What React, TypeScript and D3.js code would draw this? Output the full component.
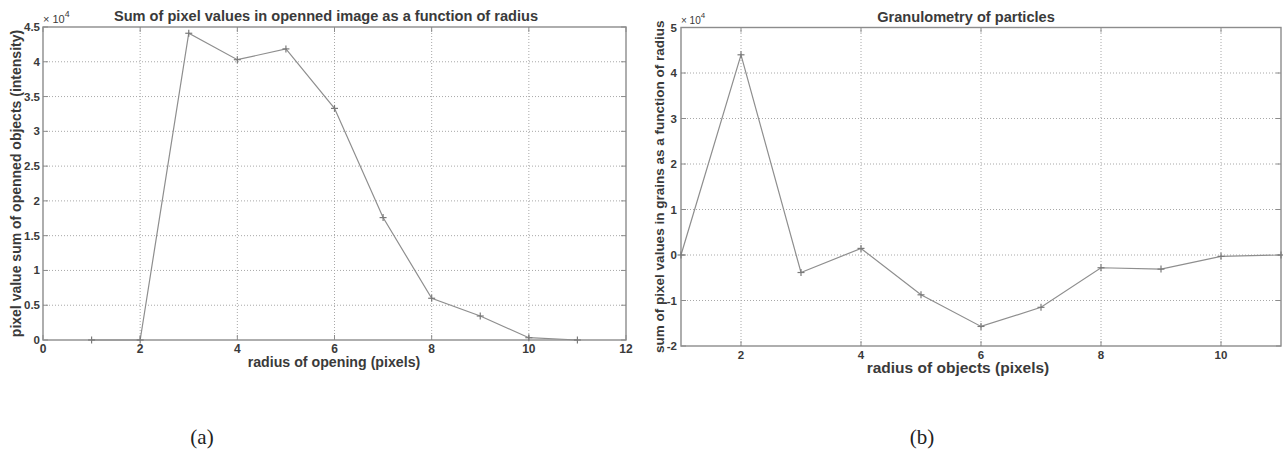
import React from "react";
import * as d3 from "d3";

// Panel (a): sum of pixel values in opened image vs radius
const radiusA = [1, 2, 3, 4, 5, 6, 7, 8, 9, 10, 11];
const sumOpened = [0, 0, 44100, 40300, 41850, 33300, 17600, 6000, 3450, 330, 0];
const xTicksA = [0, 2, 4, 6, 8, 10, 12];
const yTicksA = [0, 0.5, 1, 1.5, 2, 2.5, 3, 3.5, 4, 4.5];

// Panel (b): granulometry of particles
const radiusB = [1, 2, 3, 4, 5, 6, 7, 8, 9, 10, 11];
const granulometry = [0, 44000, -3850, 1450, -8750, -15700, -11500, -2800, -3100, -300, 0];
const xTicksB = [2, 4, 6, 8, 10];
const yTicksB = [-2, -1, 0, 1, 2, 3, 4, 5];

const TEXT = "#3a3a3a";
const AXIS = "#8c8c8c";
const GRID = "#a8a8a8";
const LINE = "#8e8e8e";
const FONT = "'Liberation Sans', Arial, Helvetica, sans-serif";

type PanelProps = {
  xs: number[];
  ys: number[];
  xDomain: [number, number];
  yDomain: [number, number];
  xRange: [number, number];
  yRange: [number, number];
  xTicks: number[];
  yTicks: number[];
  title: string;
  titleX: number;
  titleY: number;
  titleSize: number;
  xLabel: string;
  xLabelX: number;
  xLabelY: number;
  xLabelSize: number;
  yLabel: string;
  yLabelX: number;
  yLabelSize: number;
  xTickLabelY: number;
  xTickSize: number;
  yTickLabelX: number;
  yTickSize: number;
  expX: number;
  expY: number;
  expSize: number;
};

function Panel(p: PanelProps) {
  const x = d3.scaleLinear().domain(p.xDomain).range(p.xRange);
  const y = d3.scaleLinear().domain(p.yDomain).range(p.yRange);
  const [x0, x1] = p.xRange;
  const [y0, y1] = p.yRange; // y0 bottom, y1 top
  const line = d3
    .line<number>()
    .x((_, i) => x(p.xs[i]))
    .y((d) => y(d));
  const yVals = p.ys.map((v) => v / 1e4);
  const tl = 5;
  const yMid = (y0 + y1) / 2;
  return (
    <g>
      {/* grid */}
      {p.xTicks
        .filter((t) => t > p.xDomain[0] && t < p.xDomain[1])
        .map((t) => (
          <line key={"gx" + t} x1={x(t)} x2={x(t)} y1={y0} y2={y1} stroke={GRID} strokeWidth={1} strokeDasharray="1,2" />
        ))}
      {p.yTicks
        .filter((t) => t > p.yDomain[0] && t < p.yDomain[1])
        .map((t) => (
          <line key={"gy" + t} x1={x0} x2={x1} y1={y(t)} y2={y(t)} stroke={GRID} strokeWidth={1} strokeDasharray="1,2" />
        ))}
      {/* ticks */}
      {p.xTicks.map((t) => (
        <g key={"tx" + t}>
          <line x1={x(t)} x2={x(t)} y1={y0} y2={y0 - tl} stroke={AXIS} />
          <line x1={x(t)} x2={x(t)} y1={y1} y2={y1 + tl} stroke={AXIS} />
          <text x={x(t)} y={p.xTickLabelY} textAnchor="middle" fontSize={p.xTickSize} fontWeight="bold" fill={TEXT} fontFamily={FONT}>
            {t}
          </text>
        </g>
      ))}
      {p.yTicks.map((t) => (
        <g key={"ty" + t}>
          <line x1={x0} x2={x0 + tl} y1={y(t)} y2={y(t)} stroke={AXIS} />
          <line x1={x1} x2={x1 - tl} y1={y(t)} y2={y(t)} stroke={AXIS} />
          <text x={p.yTickLabelX} y={y(t)} dy="0.35em" textAnchor="end" fontSize={p.yTickSize} fontWeight="bold" fill={TEXT} fontFamily={FONT}>
            {t}
          </text>
        </g>
      ))}
      {/* box */}
      <rect x={x0} y={y1} width={x1 - x0} height={y0 - y1} fill="none" stroke={AXIS} strokeWidth={1.4} />
      {/* data */}
      <path d={line(yVals) || ""} fill="none" stroke={LINE} strokeWidth={1.2} />
      {yVals.map((v, i) => (
        <g key={"m" + i} stroke="#7a7a7a" strokeWidth={1.2}>
          <line x1={x(p.xs[i]) - 3.5} x2={x(p.xs[i]) + 3.5} y1={y(v)} y2={y(v)} />
          <line x1={x(p.xs[i])} x2={x(p.xs[i])} y1={y(v) - 3.5} y2={y(v) + 3.5} />
        </g>
      ))}
      {/* exponent */}
      <text x={p.expX} y={p.expY} fontSize={p.expSize} fill={TEXT} fontFamily={FONT}>
        × 10
        <tspan dy={-6} fontSize={p.expSize * 0.8}>4</tspan>
      </text>
      {/* labels */}
      <text x={p.titleX} y={p.titleY} textAnchor="middle" fontSize={p.titleSize} fontWeight="bold" fill={TEXT} fontFamily={FONT}>
        {p.title}
      </text>
      <text x={p.xLabelX} y={p.xLabelY} textAnchor="middle" fontSize={p.xLabelSize} fontWeight="bold" fill={TEXT} fontFamily={FONT}>
        {p.xLabel}
      </text>
      <text
        transform={`translate(${p.yLabelX},${yMid}) rotate(-90)`}
        textAnchor="middle"
        fontSize={p.yLabelSize}
        fontWeight="bold"
        fill={TEXT}
        fontFamily={FONT}
      >
        {p.yLabel}
      </text>
    </g>
  );
}

export default function App() {
  return (
    <svg width={1283} height={453} style={{ position: "absolute", left: 0, top: 0, background: "#fff" }}>
      <rect x={0} y={0} width={1283} height={453} fill="#fff" />
      <Panel
        xs={radiusA}
        ys={sumOpened}
        xDomain={[0, 12]}
        yDomain={[0, 4.5]}
        xRange={[43, 626]}
        yRange={[340, 27]}
        xTicks={xTicksA}
        yTicks={yTicksA}
        title="Sum of pixel values in openned image as a function of radius"
        titleX={326}
        titleY={21}
        titleSize={14.6}
        xLabel="radius of opening (pixels)"
        xLabelX={334}
        xLabelY={367}
        xLabelSize={14.2}
        yLabel="pixel value sum of openned objects (intensity)"
        yLabelX={21}
        yLabelSize={14}
        xTickLabelY={353}
        xTickSize={12}
        yTickLabelX={40}
        yTickSize={11.5}
        expX={43}
        expY={23}
        expSize={11}
      />
      <Panel
        xs={radiusB}
        ys={granulometry}
        xDomain={[1, 11]}
        yDomain={[-2, 5]}
        xRange={[681, 1281]}
        yRange={[346, 27.5]}
        xTicks={xTicksB}
        yTicks={yTicksB}
        title="Granulometry of particles"
        titleX={966}
        titleY={22}
        titleSize={14.6}
        xLabel="radius of objects (pixels)"
        xLabelX={958}
        xLabelY={373}
        xLabelSize={15.5}
        yLabel="sum of pixel values in grains as a function of radius"
        yLabelX={664}
        yLabelSize={13.5}
        xTickLabelY={359}
        xTickSize={11.5}
        yTickLabelX={677}
        yTickSize={11.5}
        expX={681}
        expY={24}
        expSize={10}
      />
      <text x={202} y={444} textAnchor="middle" fontSize={21} fill="#222" fontFamily="'Liberation Serif', 'Times New Roman', serif">
        (a)
      </text>
      <text x={922} y={444} textAnchor="middle" fontSize={21} fill="#222" fontFamily="'Liberation Serif', 'Times New Roman', serif">
        (b)
      </text>
    </svg>
  );
}
